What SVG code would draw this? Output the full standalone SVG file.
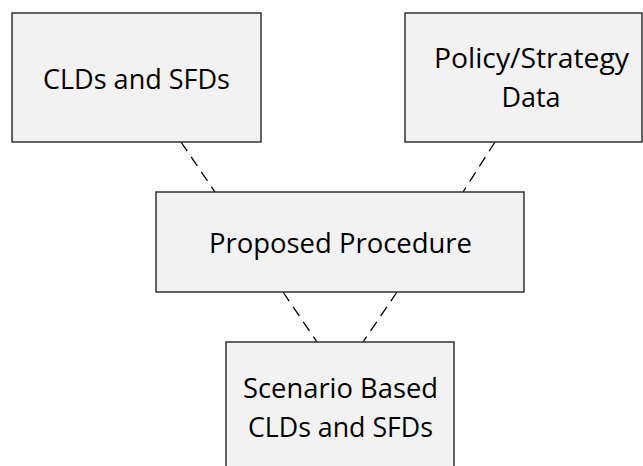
<svg xmlns="http://www.w3.org/2000/svg" width="643" height="466" viewBox="0 0 643 466">
<style>
.box{fill:#f2f2f2;stroke:#262626;stroke-width:1.4}
.lbl{font-family:"Open Sans","Noto Sans",sans-serif;font-size:28px;fill:#000}
.dash{stroke:#000;stroke-width:1.3;stroke-dasharray:11 7;fill:none}
</style>
<rect width="643" height="466" fill="#fff"/>
<g id="connectors">
<line class="dash" x1="181" y1="142" x2="215" y2="192"/>
<line class="dash" x1="495" y1="142" x2="463" y2="192"/>
<line class="dash" x1="283" y1="292" x2="317" y2="342"/>
<line class="dash" x1="397" y1="292" x2="363" y2="342"/>
</g>
<g id="cld-sfd">
<rect class="box" x="12" y="13" width="249" height="129"/>
<text class="lbl" x="43" y="89" textLength="187" lengthAdjust="spacingAndGlyphs">CLDs and SFDs</text>
</g>
<g id="policy-strategy">
<rect class="box" x="405" y="13" width="237" height="129"/>
<text class="lbl" x="434" y="67.5" textLength="195" lengthAdjust="spacingAndGlyphs">Policy/Strategy</text>
<text class="lbl" x="501.5" y="106.5" textLength="59" lengthAdjust="spacingAndGlyphs">Data</text>
</g>
<g id="proposed-procedure">
<rect class="box" x="156" y="192" width="368" height="100"/>
<text class="lbl" x="209" y="252.5" textLength="263" lengthAdjust="spacingAndGlyphs">Proposed Procedure</text>
</g>
<g id="scenario-based">
<rect class="box" x="226" y="342" width="228" height="140"/>
<text class="lbl" x="243" y="397.5" textLength="195" lengthAdjust="spacingAndGlyphs">Scenario Based</text>
<text class="lbl" x="248" y="436.5" textLength="185" lengthAdjust="spacingAndGlyphs">CLDs and SFDs</text>
</g>
</svg>
